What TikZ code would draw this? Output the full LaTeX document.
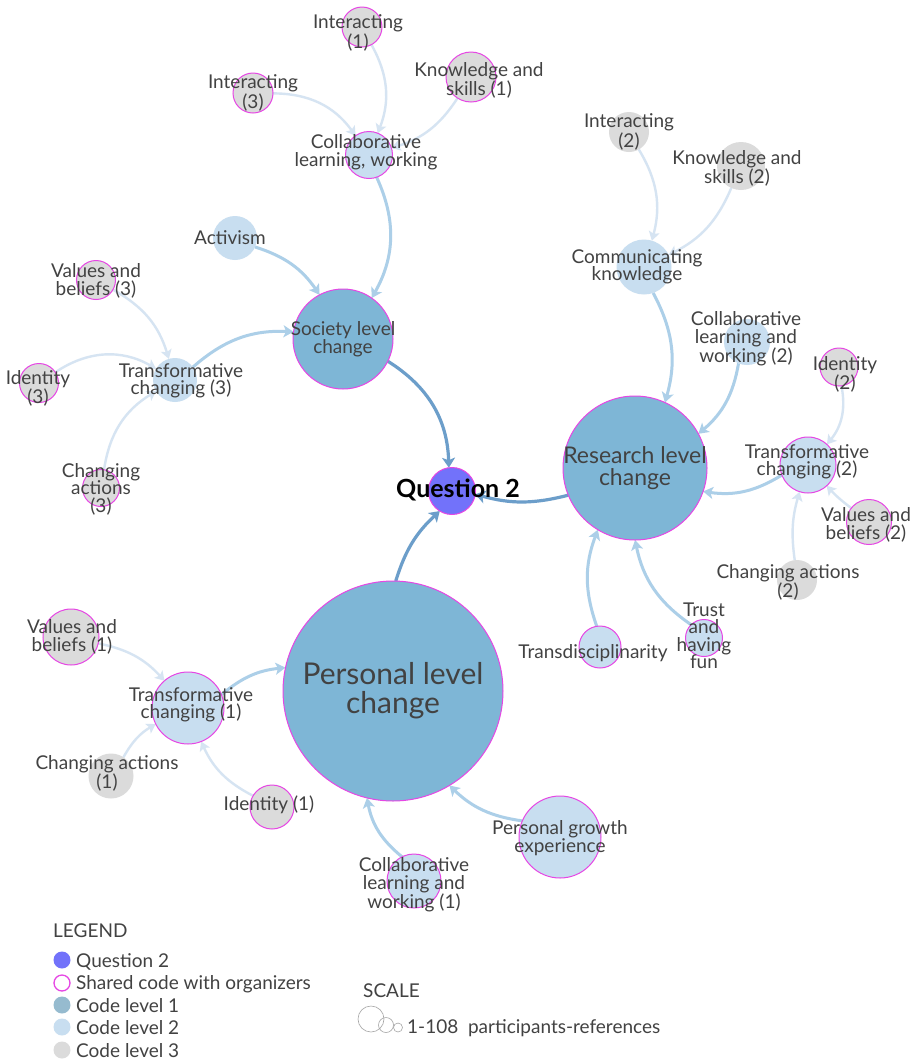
\documentclass[tikz,border=0pt]{standalone}
\usepackage{fontspec}
\setmainfont{Lato}
\usetikzlibrary{arrows.meta}
\definecolor{cQ}{RGB}{114,114,250}
\definecolor{cLone}{RGB}{126,182,214}
\definecolor{cLtwo}{RGB}{200,222,240}
\definecolor{cLthree}{RGB}{219,219,219}
\definecolor{cPink}{RGB}{230,70,228}
\definecolor{cTxt}{RGB}{66,66,66}
\definecolor{cEone}{RGB}{108,158,202}
\definecolor{cEtwo}{RGB}{172,207,232}
\definecolor{cEthree}{RGB}{214,228,242}
\definecolor{cLegone}{RGB}{150,187,207}
\definecolor{cScale}{RGB}{165,165,165}
\pgfdeclarelayer{back}
\pgfdeclarelayer{edges}
\pgfsetlayers{back,edges,main}
\begin{document}
\begin{tikzpicture}[x=1pt,y=1pt,
  nd/.style={circle,inner sep=0pt,outer sep=0pt,minimum size=#1},
  lone/.style={fill=cLone},
  ltwo/.style={fill=cLtwo},
  lthree/.style={fill=cLthree},
  shared/.style={draw=cPink,line width=1pt},
  lbl/.style={align=center,inner sep=0pt,text=cTxt,font=\fontsize{19}{17.5}\selectfont},
  lblres/.style={align=center,inner sep=0pt,text=cTxt,font=\fontsize{23}{22}\selectfont},
  lblpers/.style={align=center,inner sep=0pt,text=cTxt,font=\fontsize{30}{29}\selectfont},
  lblq/.style={inner sep=0pt,text=black,font=\fontsize{25}{25}\selectfont\bfseries},
  legtxt/.style={anchor=base west,inner sep=0pt,text=cTxt,font=\fontsize{19}{19}\selectfont},
  eone/.style={draw=cEone,line width=3.2pt,-{Stealth[length=10pt,width=13pt,inset=2.5pt]}},
  etwo/.style={draw=cEtwo,line width=3pt,-{Stealth[length=10pt,width=12pt,inset=2.5pt]}},
  ethree/.style={draw=cEthree,line width=2.4pt,-{Stealth[length=9pt,width=11pt,inset=2pt]}},
]
\begin{pgfonlayer}{back}
\fill[white] (0,0) rectangle (921,-1061);
\end{pgfonlayer}
\useasboundingbox (0,0) rectangle (921,-1061);

% ---------- circles ----------
\node[nd=47pt,fill=cQ,shared] (q2) at (452,-491) {};
\node[nd=100pt,lone,shared] (soc) at (343,-339) {};
\node[nd=144pt,lone,shared] (res) at (635,-468) {};
\node[nd=220pt,lone,shared] (pers) at (393,-691) {};

\node[nd=47pt,ltwo,shared] (collw) at (369,-155) {};
\node[nd=44pt,ltwo] (act) at (235,-238) {};
\node[nd=44pt,ltwo] (trthree) at (175,-380) {};
\node[nd=55pt,ltwo] (comm) at (644,-267) {};
\node[nd=46pt,ltwo] (cltwo) at (747,-342) {};
\node[nd=56pt,ltwo,shared] (trtwo) at (808,-465) {};
\node[nd=42pt,ltwo,shared] (tdis) at (600,-647) {};
\node[nd=37pt,ltwo,shared] (trust) at (704,-638) {};
\node[nd=72pt,ltwo,shared] (trone) at (188,-708) {};
\node[nd=82pt,ltwo,shared] (pge) at (560,-837) {};
\node[nd=54pt,ltwo,shared] (clone) at (414,-881) {};

\node[nd=40pt,lthree,shared] (intone) at (362,-27) {};
\node[nd=40pt,lthree,shared] (intthree) at (253,-93) {};
\node[nd=50pt,lthree,shared] (ksone) at (471,-77) {};
\node[nd=39pt,lthree,shared] (vbthree) at (96,-280) {};
\node[nd=39pt,lthree,shared] (idthree) at (39,-383) {};
\node[nd=37pt,lthree,shared] (cathree) at (101,-488) {};
\node[nd=40pt,lthree] (inttwo) at (629,-132) {};
\node[nd=48pt,lthree] (kstwo) at (741,-166) {};
\node[nd=38pt,lthree,shared] (idtwo) at (839,-367) {};
\node[nd=45pt,lthree,shared] (vbtwo) at (869,-522) {};
\node[nd=40pt,lthree] (catwo) at (797,-580) {};
\node[nd=56pt,lthree,shared] (vbone) at (71,-637) {};
\node[nd=45pt,lthree] (caone) at (111,-776) {};
\node[nd=44pt,lthree,shared] (idone) at (272,-807) {};

% ---------- connectors ----------
\begin{pgfonlayer}{edges}
\draw[eone] (soc) to[bend left=28] (q2);
\draw[eone] (res) to[bend left=15] (q2);
\draw[eone] (pers) to[bend left=15] (q2);

\draw[etwo] (collw) to[bend left=27] (soc);
\draw[etwo] (act) to[bend left=19] (soc);
\draw[etwo] (trthree) to[bend left=22] (soc);
\draw[etwo] (comm) to[bend left=22] (res);
\draw[etwo] (cltwo) to[bend left=20] (res);
\draw[etwo] (trtwo) to[bend left=20] (res);
\draw[etwo] (tdis) to[bend left=20] (res);
\draw[etwo] (trust) to[bend left=22] (res);
\draw[etwo] (trone) to[bend left=17] (pers);
\draw[etwo] (clone) to[bend left=20] (pers);
\draw[etwo] (pge) to[bend left=18] (pers);

\draw[ethree] (intone) to[bend left=25] (collw);
\draw[ethree] (intthree) to[bend left=27] (collw);
\draw[ethree] (ksone) to[bend left=20] (collw);
\draw[ethree] (vbthree) to[bend left=22] (trthree);
\draw[ethree] (idthree) to[bend left=32] (trthree);
\draw[ethree] (cathree) to[bend left=25] (trthree);
\draw[ethree] (inttwo) to[bend left=23] (comm);
\draw[ethree] (kstwo) to[bend left=20] (comm);
\draw[ethree] (idtwo) to[bend left=25] (trtwo);
\draw[ethree] (vbtwo) to[bend left=5] (trtwo);
\draw[ethree] (catwo) to[bend left=12] (trtwo);
\draw[ethree] (vbone) to[bend left=18] (trone);
\draw[ethree] (caone) to[bend left=15] (trone);
\draw[ethree] (idone) to[bend left=19] (trone);
\end{pgfonlayer}

% ---------- labels ----------
\node[lblq] (q2-t) at (458,-490) {Question 2};
\node[lbl] (soc-t) at (343,-339) {Society level\\change};
\node[lblres] (res-t) at (635,-468) {Research level\\change};
\node[lblpers] (pers-t) at (393,-691) {Personal level\\change};

\node[lbl] (collw-t) at (366,-152) {Collaborative\\learning, working};
\node[lbl] (act-t) at (230,-238) {Activism};
\node[lbl] (trthree-t) at (181,-381) {Transformative\\changing (3)};
\node[lbl] (comm-t) at (637,-267) {Communicating\\knowledge};
\node[lbl] (cltwo-t) at (746,-339) {Collaborative\\learning and\\working (2)};
\node[lbl] (trtwo-t) at (807,-462) {Transformative\\changing (2)};
\node[lbl] (tdis-t) at (593,-653) {Transdisciplinarity};
\node[lbl] (trust-t) at (704,-636) {Trust\\and\\having\\fun};
\node[lbl] (trone-t) at (191,-705) {Transformative\\changing (1)};
\node[lbl] (pge-t) at (560,-838) {Personal growth\\experience};
\node[lbl] (clone-t) at (414,-885) {Collaborative\\learning and\\working (1)};

\node[lbl] (intone-t) at (358,-33) {Interacting\\(1)};
\node[lbl] (intthree-t) at (253,-93) {Interacting\\(3)};
\node[lbl] (ksone-t) at (479,-80) {Knowledge and\\skills (1)};
\node[lbl] (vbthree-t) at (96,-281) {Values and\\beliefs (3)};
\node[lbl] (idthree-t) at (38,-388) {Identity\\(3)};
\node[lbl] (cathree-t) at (101,-489) {Changing\\actions\\(3)};
\node[lbl] (inttwo-t) at (629,-132) {Interacting\\(2)};
\node[lbl] (kstwo-t) at (737,-168) {Knowledge and\\skills (2)};
\node[lbl] (idtwo-t) at (845,-374) {Identity\\(2)};
\node[lbl] (vbtwo-t) at (866,-525) {Values and\\beliefs (2)};
\node[lbl] (catwo-t) at (788,-582) {Changing actions\\(2)};
\node[lbl] (vbone-t) at (72,-637) {Values and\\beliefs (1)};
\node[lbl] (caone-t) at (107,-773) {Changing actions\\(1)};
\node[lbl] (idone-t) at (269,-805) {Identity (1)};

% ---------- legend ----------
\node[legtxt] (leg) at (53,-937) {LEGEND};
\node[nd=17pt,fill=cQ] (legq) at (62,-960) {};
\node[legtxt] (legq-t) at (76,-967) {Question 2};
\node[nd=16pt,draw=cPink,line width=1.3pt,fill=white] (legsh) at (62,-983) {};
\node[legtxt] (legsh-t) at (76,-989.5) {Shared code with organizers};
\node[nd=17pt,fill=cLegone] (legone) at (62,-1005) {};
\node[legtxt] (legone-t) at (76,-1012) {Code level 1};
\node[nd=17pt,fill=cLtwo] (legtwo) at (62,-1027) {};
\node[legtxt] (legtwo-t) at (76,-1034.5) {Code level 2};
\node[nd=17pt,fill=cLthree] (legthree) at (62,-1050) {};
\node[legtxt] (legthree-t) at (76,-1057) {Code level 3};

% ---------- scale ----------
\node[legtxt] (scl) at (363,-997) {SCALE};
\node[nd=26pt,draw=cScale,line width=0.6pt] (sbig) at (371,-1019) {};
\node[nd=15pt,draw=cScale,line width=0.6pt] (smid) at (386,-1025) {};
\node[nd=9pt,draw=cScale,line width=0.6pt] (ssmall) at (398,-1027.5) {};
\node[legtxt] (scl-t) at (407,-1033) {1-108\ \ participants-references};
\end{tikzpicture}
\end{document}
